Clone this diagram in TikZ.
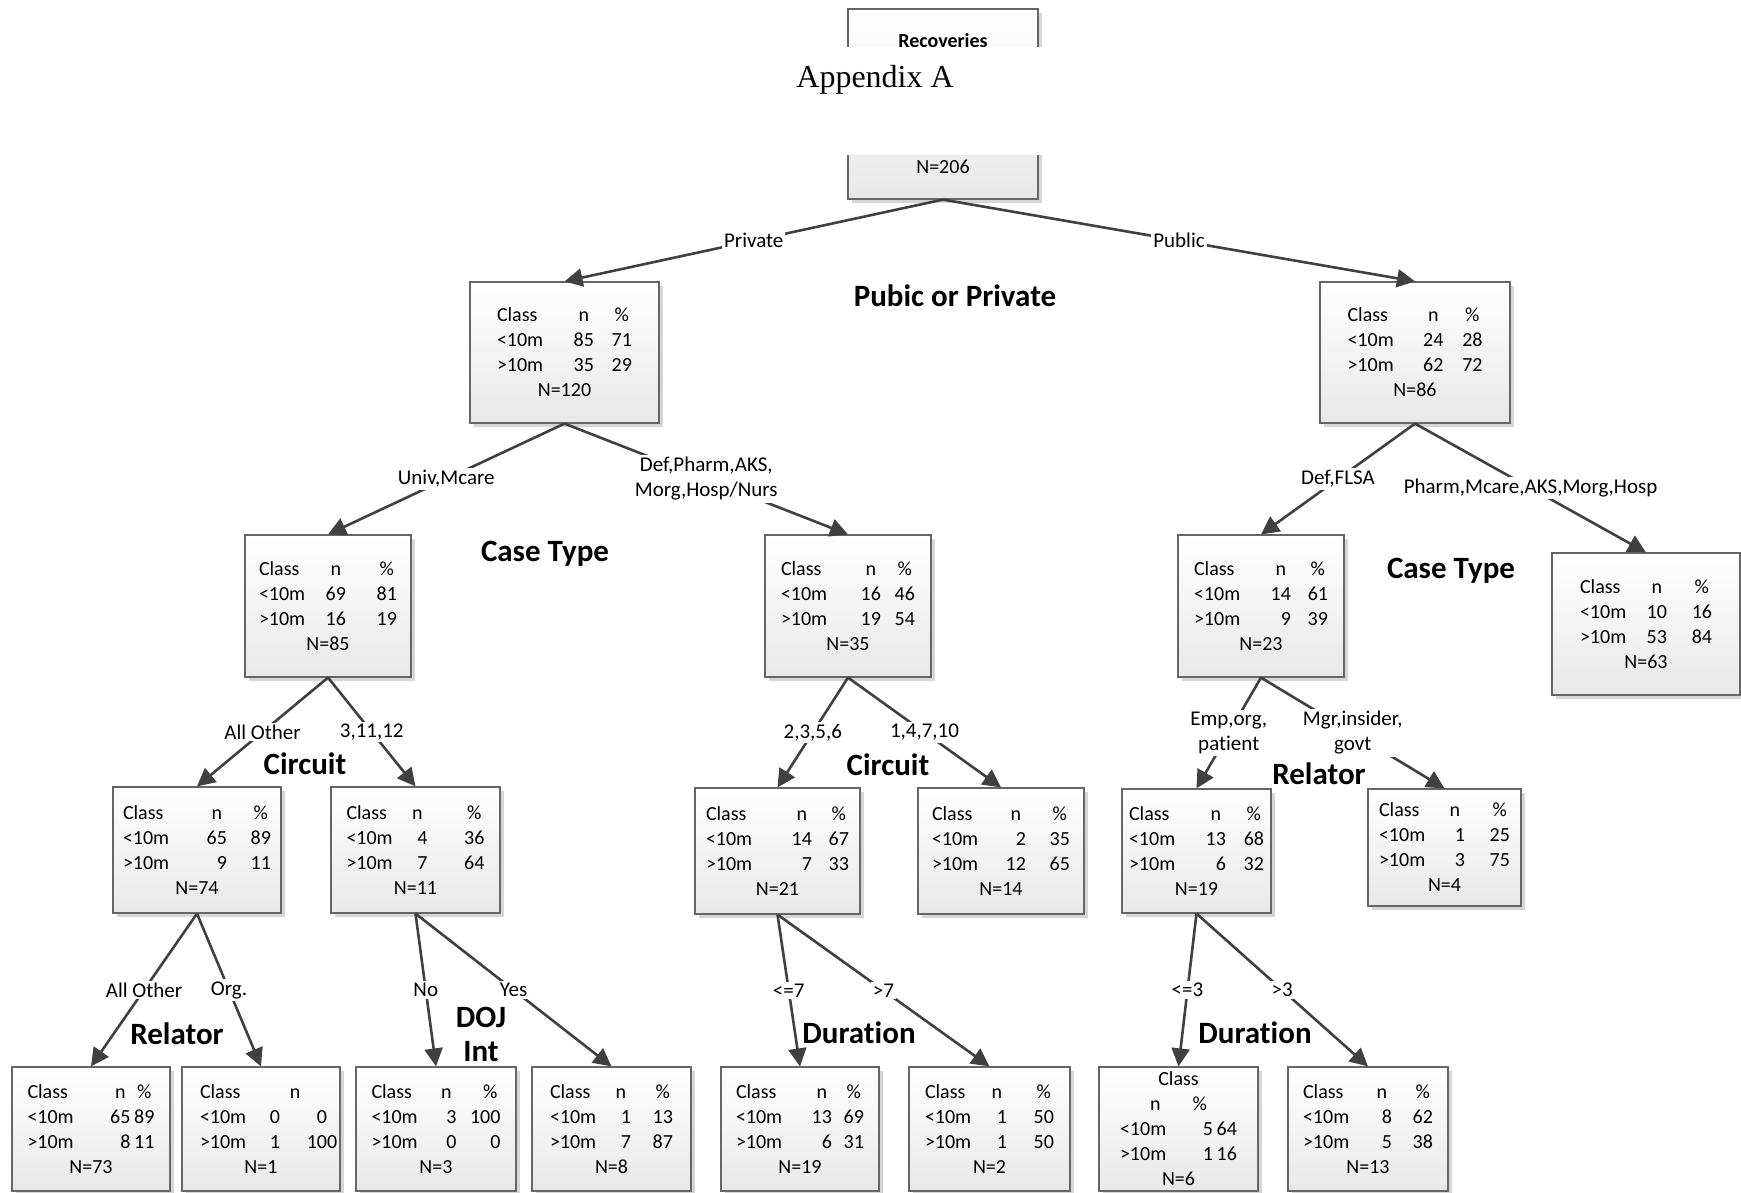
\documentclass[tikz,border=0pt]{standalone}
\usepackage{fontspec}
\setmainfont{Carlito}[Ligatures={NoCommon}]
\newfontfamily\appfont{Liberation Serif}
\usetikzlibrary{arrows.meta,shadows}

\newlength{\px}\setlength{\px}{0.5pt}
\newlength{\dw}
% class table: widths A,B (px), <10m n %, >10m n %, N
\newcommand{\cls}[7]{%
  \settowidth{\dw}{00}%
  \makebox[#1\px]{Class\hfill\makebox[\dw]{n}}\makebox[#2\px][r]{\makebox[\dw]{\%}}\\
  \makebox[#1\px]{<10m\hfill#3}\makebox[#2\px][r]{#4}\\
  \makebox[#1\px]{>10m\hfill#5}\makebox[#2\px][r]{#6}\\
  N=#7}

\begin{document}
\begin{tikzpicture}[x=0.5pt,y=-0.5pt,>={Triangle[length=9pt,width=9pt]},
  box/.style={draw=black!60,line width=0.6pt,top color=white,bottom color=black!9,
    drop shadow={shadow xshift=2pt,shadow yshift=-2pt,fill=black!16,opacity=1},
    align=center,inner sep=0pt,font=\fontsize{10}{12.5}\selectfont},
  edge/.style={draw=black!75,line width=1.3pt,->},
  lab/.style={fill=white,inner sep=1pt,align=center,font=\fontsize{10.5}{12.5}\selectfont},
  varlab/.style={anchor=base,inner sep=0pt,align=center,font=\bfseries\fontsize{15.5}{17}\selectfont}]
\useasboundingbox (0,0) rectangle (1741,1193);

% root and title band
\node[box,minimum width=95pt,minimum height=95pt] (root) at (943,104) {\textbf{Recoveries}\\[50.5pt]N=206};
\fill[white] (838,47) rectangle (1052,155);
\node[anchor=base west,inner sep=0pt,font=\appfont\fontsize{16}{19}\selectfont] (app) at (796,88) {Appendix A};

% level 1
\node[box,minimum width=94.5pt,minimum height=70.5pt] (priv) at (564.5,352.5) {\cls{97}{38}{85}{71}{35}{29}{120}};
\node[box,minimum width=95pt,minimum height=70.5pt] (pub) at (1415,352.5) {\cls{96}{39}{24}{28}{62}{72}{86}};

% level 2
\node[box,minimum width=83pt,minimum height=71pt] (univ) at (328,606) {\cls{87}{51}{69}{81}{16}{19}{85}};
\node[box,minimum width=83pt,minimum height=71pt] (def) at (848,606) {\cls{100}{34}{16}{46}{19}{54}{35}};
\node[box,minimum width=83pt,minimum height=71pt] (flsa) at (1261,606) {\cls{97}{37}{14}{61}{9}{39}{23}};
\node[box,minimum width=94pt,minimum height=71pt] (pharm) at (1646,624) {\cls{87}{45}{10}{16}{53}{84}{63}};

% level 3
\node[box,minimum width=84pt,minimum height=63pt] (allo) at (197,850) {\cls{104}{44}{65}{89}{9}{11}{74}};
\node[box,minimum width=84.5pt,minimum height=63pt] (cir) at (415.5,850) {\cls{81}{57}{4}{36}{7}{64}{11}};
\node[box,minimum width=82.5pt,minimum height=63pt] (ctwo) at (777.5,851) {\cls{106}{37}{14}{67}{7}{33}{21}};
\node[box,minimum width=83pt,minimum height=63pt] (cone) at (1001,851) {\cls{94}{44}{2}{35}{12}{65}{14}};
\node[box,minimum width=74.5pt,minimum height=62pt] (emp) at (1196.5,851) {\cls{97}{38}{13}{68}{6}{32}{19}};
\node[box,minimum width=76.5pt,minimum height=58.5pt] (mgr) at (1444.5,847.5) {\cls{86}{45}{1}{25}{3}{75}{4}};

% level 4
\node[box,minimum width=79pt,minimum height=62pt] (rel) at (91,1129) {\cls{103}{24}{65}{89}{8}{11}{73}};
\node[box,minimum width=79pt,minimum height=62pt] (org) at (261,1129) {%
  \settowidth{\dw}{100}%
  \makebox[122\px][l]{\makebox[90\px][l]{Class}n}\\
  \makebox[80\px]{<10m\hfill0}\makebox[42\px][r]{\makebox[\dw]{0}}\\
  \makebox[80\px]{>10m\hfill1}\makebox[42\px][r]{\makebox[\dw]{100}}\\
  N=1};
\node[box,minimum width=80pt,minimum height=62pt] (no) at (436,1129) {\cls{85}{44}{3}{100}{0}{0}{3}};
\node[box,minimum width=79.5pt,minimum height=62pt] (yes) at (611.5,1129) {\cls{81}{42}{1}{13}{7}{87}{8}};
\node[box,minimum width=79pt,minimum height=62pt] (lesev) at (800,1129) {\cls{96}{32}{13}{69}{6}{31}{19}};
\node[box,minimum width=80.5pt,minimum height=62pt] (gtsev) at (989.5,1129) {\cls{82}{47}{1}{50}{1}{50}{2}};
\node[box,minimum width=79.5pt,minimum height=62pt] (lethr) at (1178.5,1129) {%
  Class\\
  n\hspace{16pt}\%\\
  \makebox[93\px]{<10m\hfill5}\makebox[24\px][r]{64}\\
  \makebox[93\px]{>10m\hfill1}\makebox[24\px][r]{16}\\
  N=6};
\node[box,minimum width=80pt,minimum height=62pt] (gtthr) at (1368,1129) {\cls{89}{41}{8}{62}{5}{38}{13}};

% splits
\draw[edge] (root.south) -- node[lab]{Private} (priv.north);
\draw[edge] (root.south) -- node[lab]{Public} (pub.north);
\draw[edge] (priv.south) -- node[lab]{Univ,Mcare} (univ.north);
\draw[edge] (priv.south) -- node[lab]{Def,Pharm,AKS,\\Morg,Hosp/Nurs} (def.north);
\draw[edge] (pub.south) -- node[lab]{Def,FLSA} (flsa.north);
\draw[edge] (pub.south) -- node[lab]{Pharm,Mcare,AKS,Morg,Hosp} (pharm.north);
\draw[edge] (univ.south) -- node[lab]{All Other} (allo.north);
\draw[edge] (univ.south) -- node[lab]{3,11,12} (cir.north);
\draw[edge] (def.south) -- node[lab]{2,3,5,6} (ctwo.north);
\draw[edge] (def.south) -- node[lab]{1,4,7,10} (cone.north);
\draw[edge] (flsa.south) -- node[lab]{Emp,org,\\patient} (emp.north);
\draw[edge] (flsa.south) -- node[lab]{Mgr,insider,\\govt} (mgr.north);
\draw[edge] (allo.south) -- node[lab]{All Other} (rel.north);
\draw[edge] (allo.south) -- node[lab]{Org.} (org.north);
\draw[edge] (cir.south) -- node[lab]{No} (no.north);
\draw[edge] (cir.south) -- node[lab]{Yes} (yes.north);
\draw[edge] (ctwo.south) -- node[lab]{<=7} (lesev.north);
\draw[edge] (ctwo.south) -- node[lab]{>7} (gtsev.north);
\draw[edge] (emp.south) -- node[lab]{<=3} (lethr.north);
\draw[edge] (emp.south) -- node[lab]{>3} (gtthr.north);

% split variables
\node[varlab] (v1) at (955,306) {Pubic or Private};
\node[varlab] (v2) at (545,561) {Case Type};
\node[varlab] (v3) at (1451,578) {Case Type};
\node[varlab] (v4) at (305,774) {Circuit};
\node[varlab] (v5) at (888,775) {Circuit};
\node[varlab] (v6) at (1319,784) {Relator};
\node[varlab] (v7) at (177,1044) {Relator};
\node[varlab,anchor=center] (v8) at (481,1034) {DOJ\\Int};
\node[varlab] (v9) at (859,1043) {Duration};
\node[varlab] (v10) at (1255,1043) {Duration};
\end{tikzpicture}
\end{document}
